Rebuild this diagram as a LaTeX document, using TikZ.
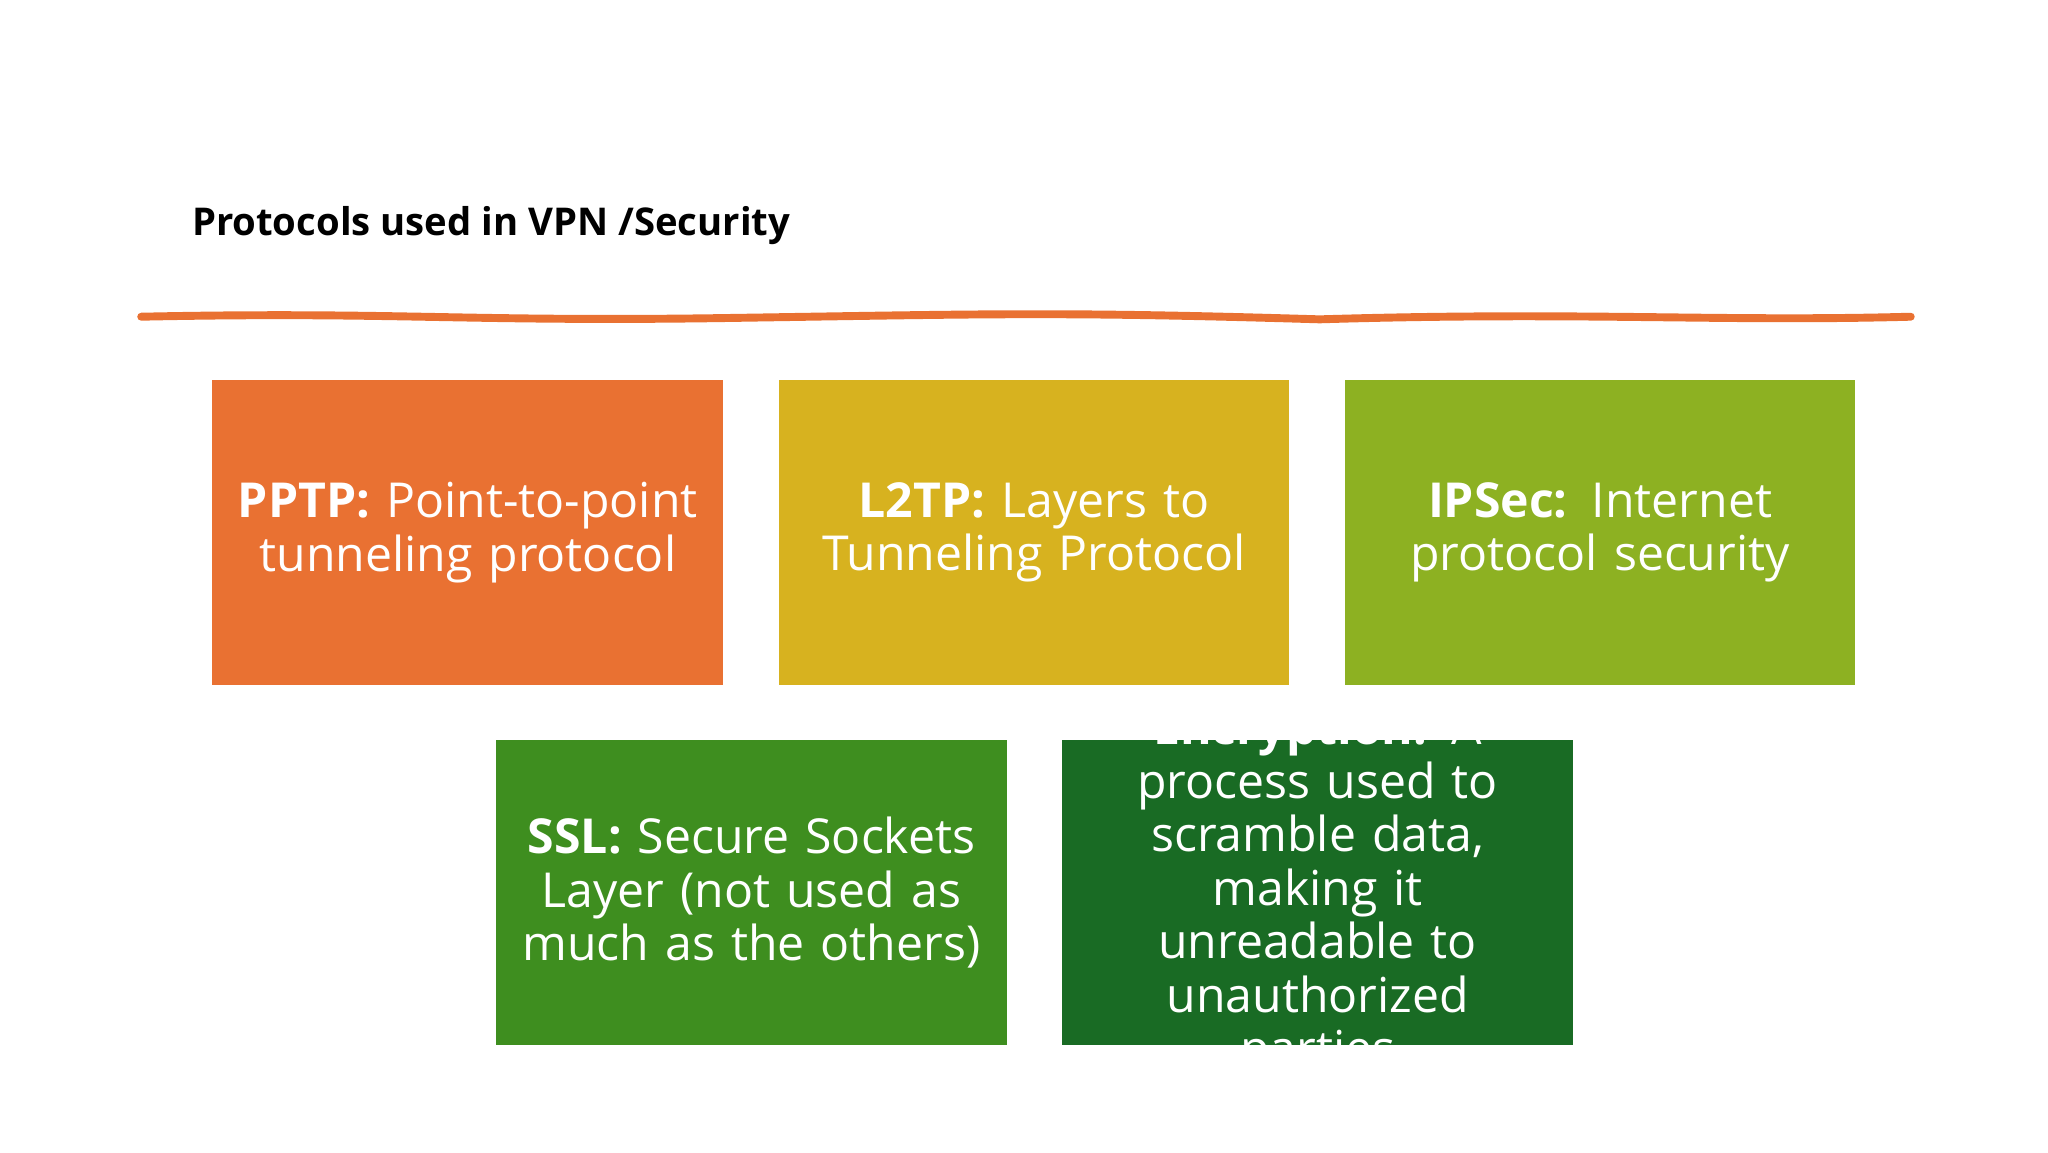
\documentclass[tikz,border=0pt]{standalone}
\usepackage{fontspec}
\setmainfont{Open Sans}
\definecolor{cOr}{HTML}{E97132}
\definecolor{cYe}{HTML}{D7B21F}
\definecolor{cLg}{HTML}{8DB122}
\definecolor{cMg}{HTML}{3E8E1F}
\definecolor{cDg}{HTML}{196B24}
\begin{document}
\begin{tikzpicture}[x=1pt,y=-1pt,
  box/.style={minimum width=387pt,minimum height=231pt,inner sep=0pt,text width=375pt,align=center,text=white,font=\fontsize{36.5}{40.5}\selectfont},
  title/.style={anchor=west,font=\bfseries\fontsize{29}{34}\selectfont}]
\useasboundingbox (0,0) rectangle (1552,873);
\node[title] (t) at (142,171) {Protocols used in VPN /Security};
\draw[cOr,line width=6pt,line cap=round] (107,240) .. controls (300,236) and (350,244) .. (550,241) .. controls (750,238) and (800,236) .. (1000,242) .. controls (1200,236) and (1300,244) .. (1448,240);
\node[box,fill=cOr] (a) at (354.5,403.5) {\textbf{PPTP:} Point-to-point\\tunneling protocol};
\node[box,fill=cYe] (b) at (783.5,403.5) {\textbf{L2TP:} Layers to\\Tunneling Protocol};
\node[box,fill=cLg] (c) at (1212.5,403.5) {\textbf{IPSec:} Internet\\protocol security};
\node[box,fill=cMg] (d) at (569.5,676.5) {\textbf{SSL:} Secure Sockets\\Layer (not used as\\much as the others)};
\fill[cDg] (805,561) rectangle (1192,792);
\begin{scope}
\clip (805,561) rectangle (1192,792);
\node[box] (e) at (998.5,676.5) {\textbf{Encryption:} A\\process used to\\scramble data,\\making it\\unreadable to\\unauthorized\\parties};
\end{scope}
\end{tikzpicture}
\end{document}
